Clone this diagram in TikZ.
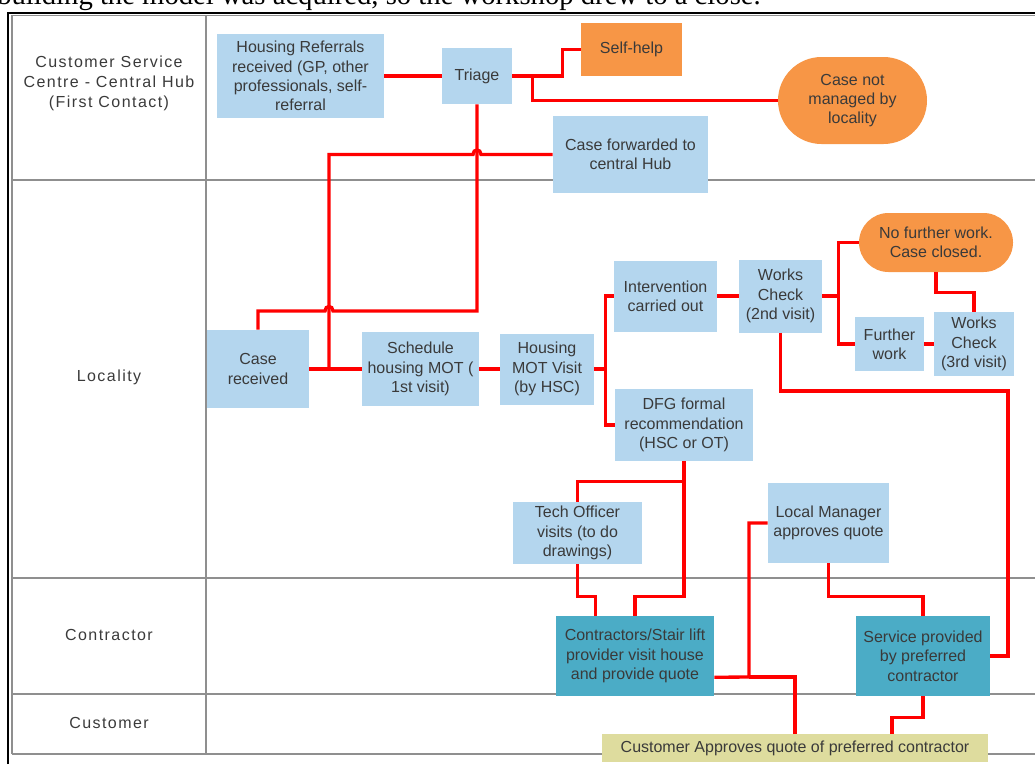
\documentclass[tikz,border=0pt]{standalone}
\usepackage{fontspec}
\usepackage{tikz}
\usetikzlibrary{calc}
\usetikzlibrary{shapes.misc}

\newfontfamily\boxfont{Liberation Sans}
\newfontfamily\lanefont[LetterSpace=9]{Liberation Sans}
\newfontfamily\bodyfont{Liberation Serif}

\definecolor{procblue}{HTML}{B4D6EE}
\definecolor{endorange}{HTML}{F79646}
\definecolor{contrteal}{HTML}{4BACC6}
\definecolor{custkhaki}{HTML}{DEDC9E}
\definecolor{boxtext}{HTML}{3A3A3A}
\definecolor{gridgrey}{HTML}{8F8F8F}

\tikzset{
  lane/.style={font=\lanefont\fontsize{12}{15}\selectfont, text=boxtext, align=center},
  proc/.style={fill=procblue, text=boxtext, align=center, inner sep=0pt,
    font=\boxfont\fontsize{12}{14.5}\selectfont},
  endbox/.style={proc, fill=endorange},
  endterm/.style={proc, fill=endorange, rounded rectangle},
  contrbox/.style={proc, fill=contrteal},
  custbox/.style={proc, fill=custkhaki},
  sz/.style 2 args={minimum width=#1*0.75pt, minimum height=#2*0.75pt},
  link/.style={draw=red, line width=2.5pt},
  grid line/.style={draw=gridgrey, line width=1.1pt},
}

\begin{document}
\begin{tikzpicture}[x=0.75pt, y=-0.75pt]
  \useasboundingbox (0,0) rectangle (1035,764);
  \clip (0,0) rectangle (1035,764);

  % Page text above the figure
  \node[anchor=base west, inner sep=0pt, font=\bodyfont\fontsize{21.5}{24}\selectfont] (pagetext) at (-3,4)
    {building the model was acquired, so the workshop drew to a close.};

  % Frame and swimlanes
  \draw[line width=1.5pt] (8,764) -- (8,12.5) -- (1035,12.5);
  \draw[grid line] (12,754) -- (12,15.5) -- (1035,15.5);
  \draw[grid line] (206,15.5) -- (206,754);
  \foreach \y in {180,578,694,754}
    \draw[grid line] (12,\y) -- (1035,\y);

  % Lane headings
  \node[lane] (hublane) at (109,83) {Customer Service\\Centre - Central Hub\\(First Contact)};
  \node[lane] (locallane) at (109,377) {Locality};
  \node[lane] (contrlane) at (109,635) {Contractor};
  \node[lane] (custlane) at (109,723) {Customer};

  % Central hub
  \node[proc, sz={167}{84}] (ref) at (300.5,76) {Housing Referrals\\received (GP, other\\professionals, self-\\referral};
  \node[proc, sz={70}{56}] (triage) at (477,76) {Triage};
  \node[endbox, sz={101}{53}] (selfhelp) at (631.5,49.5) {Self-help};
  \node[endterm, sz={149}{87}] (notmanaged) at (852.5,100.5) {Case not\\managed by\\locality};
  \node[proc, sz={155}{77}] (fwd) at (630.5,154.5) {Case forwarded to\\central Hub};

  % Locality
  \node[proc, sz={102}{78}] (recv) at (258,369) {Case\\received};
  \node[proc, sz={117}{74}] (sched) at (420.5,369) {Schedule\\housing MOT (\\1st visit)};
  \node[proc, sz={94}{71}] (mot) at (547,369) {Housing\\MOT Visit\\(by HSC)};
  \node[proc, sz={103}{71}] (interv) at (665.5,296) {Intervention\\carried out};
  \node[proc, sz={83}{73}] (check2) at (780.5,296) {Works\\Check\\(2nd visit)};
  \node[endterm, sz={154}{59}] (nofurther) at (936,242.5) {No further work.\\Case closed.};
  \node[proc, sz={69}{54}] (further) at (889.5,344) {Further\\work};
  \node[proc, sz={80}{64}] (check3) at (974,344) {Works\\Check\\(3rd visit)};
  \node[proc, sz={138}{72}] (dfg) at (684,425) {DFG formal\\recommendation\\(HSC or OT)};
  \node[proc, sz={129}{62}] (tech) at (577.5,533) {Tech Officer\\visits (to do\\drawings)};
  \node[proc, sz={121}{80}] (mgr) at (828.5,523) {Local Manager\\approves quote};

  % Contractor and customer
  \node[contrbox, sz={158}{80}] (contr) at (635,656) {Contractors/Stair lift\\provider visit house\\and provide quote};
  \node[contrbox, sz={134}{80}] (service) at (923,656) {Service provided\\by preferred\\contractor};
  \node[custbox, sz={386}{28}] (approve) at (795,748) {Customer Approves quote of preferred contractor};

  % Hub connectors
  \draw[link] (ref.east) -- (triage.west);
  \draw[link] (triage.east) -- ++(50,0) |- (selfhelp.west);
  \draw[link] (triage.east) -- ++(20,0) |- (notmanaged.west);
  \coordinate (triturn) at (477,311);
  \draw[link] (triage.south) -- (triturn) -- (333,311)
    .. controls (333,305) and (325,305) .. (325,311) -| (recv.north);
  \coordinate (fwdjoin) at (329,369);
  \draw[link] (fwd.west) -- (481,154.5)
    .. controls (481,148.5) and (473,148.5) .. (473,154.5) -| (fwdjoin);

  % Locality connectors
  \draw[link] (recv.east) -- (sched.west);
  \draw[link] (sched.east) -- (mot.west);
  \draw[link] (mot.east) -- ++(11,0) |- (interv.west);
  \draw[link] (mot.east) -- ++(11,0) |- (dfg.west);
  \draw[link] (interv.east) -- (check2.west);
  \draw[link] (check2.east) -- ++(16,0) |- (nofurther.west);
  \draw[link] (check2.east) -- ++(16,0) |- (further.west);
  \draw[link] (further.east) -- (check3.west);
  \draw[link] (nofurther.south) -- ++(0,20) -| (check3.north);
  \coordinate (rightrun) at (1008,391);
  \draw[link] (check2.south) |- (rightrun) |- (service.east);
  \draw[link] (dfg.south) -- ++(0,20) -| (tech.north);
  \draw[link] (dfg.south) -- ++(0,135) -| (contr.north);
  \draw[link] (tech.south) -- ++(0,32) -| ($(contr.north west)+(40,0)$);

  % Quote and service connectors
  \coordinate (quotejoin) at (749,677);
  \draw[link] ($(contr.south east)+(0,-19)$) -- (quotejoin) |- (mgr.west);
  \draw[link] (quotejoin) -| (approve.north);
  \draw[link] (mgr.south) -- ++(0,33) -| (service.north);
  \draw[link] (service.south) -- ++(0,21) -| ($(approve.north)+(97,0)$);
\end{tikzpicture}
\end{document}
